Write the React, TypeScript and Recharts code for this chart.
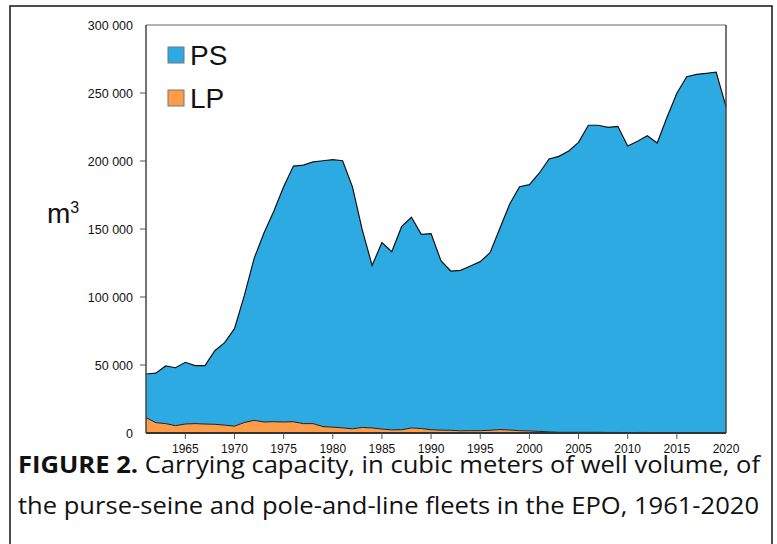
import React from 'react';
import { AreaChart, Area, XAxis, YAxis, ReferenceLine, Legend } from 'recharts';

const years = [
  1961, 1962, 1963, 1964, 1965, 1966, 1967, 1968, 1969, 1970,
  1971, 1972, 1973, 1974, 1975, 1976, 1977, 1978, 1979, 1980,
  1981, 1982, 1983, 1984, 1985, 1986, 1987, 1988, 1989, 1990,
  1991, 1992, 1993, 1994, 1995, 1996, 1997, 1998, 1999, 2000,
  2001, 2002, 2003, 2004, 2005, 2006, 2007, 2008, 2009, 2010,
  2011, 2012, 2013, 2014, 2015, 2016, 2017, 2018, 2019, 2020,
];

const psValues = [
  43400, 44000, 49300, 48000, 52000, 49500, 49500, 60500, 66400, 76700,
  101000, 128400, 147000, 163000, 181000, 196300, 197000, 199300, 200200, 201000,
  200200, 181000, 149300, 123200, 140000, 133300, 151700, 158600, 146100, 146600,
  126700, 119100, 119600, 122800, 126000, 132600, 150500, 168400, 181100, 182600,
  191000, 201500, 203400, 207400, 213700, 226300, 226300, 224800, 225500, 211000,
  214500, 218600, 213200, 232100, 249800, 262000, 263700, 264500, 265400, 240000,
];

const lpValues = [
  11300, 7600, 6900, 5400, 6600, 6900, 6600, 6400, 5800, 5000,
  7700, 9300, 8100, 8300, 8100, 8300, 6900, 6900, 4700, 4300,
  3800, 3100, 4100, 3700, 2900, 2300, 2400, 3700, 3300, 2400,
  2100, 2000, 1600, 1700, 1700, 2000, 2500, 2200, 1700, 1500,
  1200, 800, 500, 500, 500, 500, 500, 400, 400, 300,
  400, 400, 300, 300, 300, 300, 300, 300, 300, 300,
];

const xTicks = [1965, 1970, 1975, 1980, 1985, 1990, 1995, 2000, 2005, 2010, 2015, 2020];
const yTicks = [0, 50000, 100000, 150000, 200000, 250000, 300000];

const seriesNames = ['PS', 'LP'];
const seriesColors = ['#2EAAE2', '#FF9C4A'];

const data = years.map((year, i) => ({ year, PS: psValues[i], LP: lpValues[i] }));

const fmt = (v: number) => String(v).replace(/\B(?=(\d{3})+(?!\d))/g, ' ');
const tickFont = 'Arial, "Liberation Sans", Helvetica, sans-serif';

const YTick = (props: any) => {
  const { x, y, payload } = props;
  const v = payload.value;
  const showLine = v !== 0 && v !== 300000;
  return (
    <g>
      {showLine && <line x1={x + 7} x2={x + 13} y1={y} y2={y} stroke="#555" strokeWidth={1} />}
      <text x={x} y={y} dy={4.5} textAnchor="end" fontSize={12.5} fontFamily={tickFont} fill="#111">
        {fmt(v)}
      </text>
    </g>
  );
};

const XTick = (props: any) => {
  const { x, y, payload } = props;
  const v = payload.value;
  const showLine = v !== 2020;
  return (
    <g>
      {showLine && <line x1={x} x2={x} y1={y - 12} y2={y - 6} stroke="#555" strokeWidth={1} />}
      <text x={x} y={y} dy={8} textAnchor="middle" fontSize={12} fontFamily={tickFont} fill="#111">
        {v}
      </text>
    </g>
  );
};

const LegendContent = () => (
  <svg width={260} height={120} style={{ display: 'block' }}>
    {seriesNames.map((name, i) => (
      <g key={name}>
        <rect x={168} y={47 + i * 43} width={16} height={16} fill={seriesColors[i]} stroke="#777" strokeWidth={1} />
        <text x={190} y={65 + i * 43} fontSize={28} fontFamily={tickFont} fill="#111">
          {name}
        </text>
      </g>
    ))}
  </svg>
);

export default function App() {
  return (
    <div style={{ position: 'absolute', left: 0, top: 0, width: 777, height: 544, background: '#fff' }}>
      <AreaChart
        width={777}
        height={544}
        data={data}
        margin={{ top: 25, right: 51, bottom: 81, left: 86 }}
      >
        <XAxis
          dataKey="year"
          type="number"
          domain={[1961, 2020]}
          ticks={xTicks}
          tickLine={false}
          tickSize={6}
          tickMargin={6}
          tick={<XTick />}
          axisLine={{ stroke: '#333', strokeWidth: 2 }}
          height={30}
          interval={0}
        />
        <YAxis
          type="number"
          domain={[0, 300000]}
          ticks={yTicks}
          tickLine={false}
          tickSize={6}
          tickMargin={7}
          tick={<YTick />}
          axisLine={{ stroke: '#444', strokeWidth: 1.5 }}
          width={60}
          interval={0}
        />
        <Area
          dataKey="PS"
          type="linear"
          fill={seriesColors[0]}
          fillOpacity={1}
          stroke="#111"
          strokeWidth={1.2}
          isAnimationActive={false}
          dot={false}
          activeDot={false}
        />
        <Area
          dataKey="LP"
          type="linear"
          fill={seriesColors[1]}
          fillOpacity={1}
          stroke="#222"
          strokeWidth={1}
          isAnimationActive={false}
          dot={false}
          activeDot={false}
        />
        <ReferenceLine y={300000} stroke="#666" strokeWidth={1} />
        <ReferenceLine x={2020} stroke="#444" strokeWidth={1.5} />
        <Legend
          layout="vertical"
          align="center"
          verticalAlign="middle"
          content={<LegendContent />}
          wrapperStyle={{ position: 'absolute', left: 0, top: 0, width: 260, height: 120 }}
        />
      </AreaChart>
      <svg
        width={777}
        height={544}
        style={{ position: 'absolute', left: 0, top: 0, pointerEvents: 'none' }}
      >
        <rect x={10} y={6} width={762} height={560} fill="none" stroke="#222" strokeWidth={1.6} />
        <text x={47} y={223} fontSize={28} fontFamily={tickFont} fill="#111">
          m<tspan fontSize={16} dy={-10}>3</tspan>
        </text>
        <text
          x={18}
          y={473}
          fontSize={23}
          fontFamily='"Open Sans", "Noto Sans", sans-serif'
          fill="#111"
          textLength={742}
          lengthAdjust="spacingAndGlyphs"
        >
          <tspan fontWeight="bold">FIGURE 2.</tspan> Carrying capacity, in cubic meters of well volume, of
        </text>
        <text
          x={18}
          y={514}
          fontSize={23}
          fontFamily='"Open Sans", "Noto Sans", sans-serif'
          fill="#111"
          textLength={741}
          lengthAdjust="spacingAndGlyphs"
        >
          the purse-seine and pole-and-line fleets in the EPO, 1961-2020
        </text>
      </svg>
    </div>
  );
}
